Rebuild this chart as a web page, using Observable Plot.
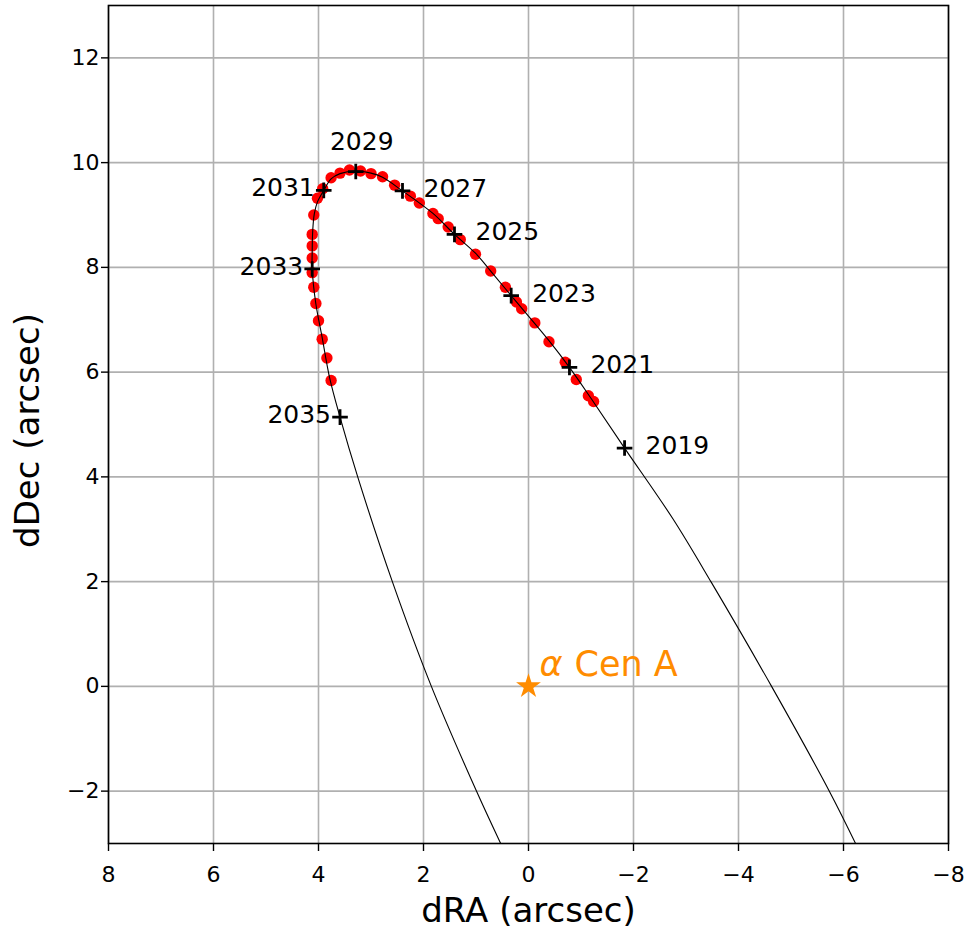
<!DOCTYPE html>
<html><head><meta charset="utf-8">
<script src="https://cdn.jsdelivr.net/npm/d3@7"></script>
<script src="https://cdn.jsdelivr.net/npm/@observablehq/plot@0.6"></script>
<style>
body{margin:0;background:#fff;}
svg{font-family:"DejaVu Sans";}
</style>
</head><body><div id="chart"></div>
<script>
// Projected track, ordered along the path
const pathX = [-6.23,-5.74,-4.63,-3.48,-2.75,-1.83,-1.19,-0.78,-0.39,0.33,0.72,1.01,1.41,1.82,2.40,2.78,3.00,3.29,3.59,3.76,3.90,4.02,4.08,4.11,4.12,4.12,4.05,3.93,3.79,3.59,3.25,2.59,1.85,1.00,0.53];
const pathY = [-3.00,-2.02,0.00,1.99,3.20,4.55,5.50,6.09,6.60,7.46,7.93,8.27,8.63,9.03,9.46,9.72,9.80,9.84,9.79,9.69,9.47,9.25,9.02,8.70,8.30,7.97,7.30,6.66,5.90,5.14,3.99,1.99,0.00,-1.98,-3.00];

// Red observed positions
const dotX = [3.76,3.84,3.93,4.00,4.05,4.09,4.12,4.12,4.12,4.12,4.09,4.02,3.92,3.76,3.59,3.41,3.20,3.00,2.78,2.55,2.25,2.08,1.82,1.72,1.53,1.30,1.01,0.72,0.44,0.23,0.13,-0.12,-0.39,-0.70,-0.91,-1.14,-1.24];
const dotY = [5.84,6.27,6.63,6.98,7.31,7.62,7.90,8.18,8.41,8.63,9.00,9.32,9.50,9.71,9.80,9.86,9.84,9.79,9.73,9.57,9.36,9.23,9.03,8.93,8.77,8.53,8.25,7.93,7.62,7.34,7.21,6.94,6.58,6.19,5.86,5.55,5.44];

// Yearly epoch markers
const years = ["2019","2021","2023","2025","2027","2029","2031","2033","2035"];
const yearX = [-1.83,-0.78,0.33,1.41,2.40,3.29,3.90,4.12,3.59];
const yearY = [4.55,6.09,7.46,8.63,9.46,9.83,9.47,7.97,5.14];

// Reference star
const starName = "Cen A";
const starX = [0];
const starY = [0];

const xTicks = [8,6,4,2,0,-2,-4,-6,-8];
const yTicks = [-2,0,2,4,6,8,10,12];

const path = pathX.map((x,i)=>({x, y:pathY[i]}));
const dots = dotX.map((x,i)=>({x, y:dotY[i]}));
const epochs = years.map((year,i)=>({year, x:yearX[i], y:yearY[i]}));
const star = starX.map((x,i)=>({x, y:starY[i]}));

const rightSide = epochs.filter(d=>+d.year<=2027);
const topSide = epochs.filter(d=>+d.year===2029);
const leftSide = epochs.filter(d=>+d.year>=2031);

const plusSymbol = {draw(ctx, size){const r=Math.sqrt(size/Math.PI); ctx.moveTo(-r,0); ctx.lineTo(r,0); ctx.moveTo(0,-r); ctx.lineTo(0,r);}};
const fmt = d3.format("d");

const chart = Plot.plot({
  width: 968, height: 930,
  marginLeft: 108, marginRight: 20, marginTop: 5, marginBottom: 87,
  x: {domain: [8,-8]},
  y: {domain: [-3,13]},
  style: {fontFamily: "DejaVu Sans", background: "white", color: "black"},
  marks: [
    Plot.gridX(xTicks, {stroke:"#b0b0b0", strokeOpacity:1, strokeWidth:1.6}),
    Plot.gridY(yTicks, {stroke:"#b0b0b0", strokeOpacity:1, strokeWidth:1.6}),
    Plot.axisX(xTicks, {tickSize:8, tickPadding:15, fontSize:22, label:null, tickFormat:fmt, strokeWidth:1.4}),
    Plot.axisY(yTicks, {tickSize:7, tickPadding:2, fontSize:22, label:null, tickFormat:fmt, strokeWidth:1.4}),
    Plot.dot(dots, {x:"x", y:"y", r:5.7, fill:"#ff0000"}),
    Plot.line(path, {x:"x", y:"y", curve:"catmull-rom", stroke:"black", strokeWidth:1.1, clip:true}),
    Plot.dot(epochs, {x:"x", y:"y", symbol:plusSymbol, r:7.8, stroke:"black", strokeWidth:2.8, fill:"none"}),
    Plot.text(rightSide, {x:"x", y:"y", text:"year", textAnchor:"start", dx:21, dy:-2, fontSize:25, fill:"black"}),
    Plot.text(topSide, {x:"x", y:"y", text:"year", textAnchor:"middle", dx:6, dy:-30, fontSize:25, fill:"black"}),
    Plot.text(leftSide, {x:"x", y:"y", text:"year", textAnchor:"end", dx:-9, dy:-2, fontSize:25, fill:"black"}),
    Plot.dot(star, {x:"x", y:"y", symbol:"star", r:7.8, fill:"#ff8c00", stroke:"none"}),
    Plot.text(star, {x:"x", y:"y", text:()=>"α", textAnchor:"start", dx:11, dy:-22, fontSize:35, fontStyle:"italic", fill:"#ff8c00"}),
    Plot.text(star, {x:"x", y:"y", text:()=>starName, textAnchor:"start", dx:46, dy:-22, fontSize:35, fill:"#ff8c00"}),
    Plot.frame({stroke:"black", strokeWidth:1.6}),
    Plot.text(["dRA (arcsec)"], {frameAnchor:"bottom", textAnchor:"middle", lineAnchor:"middle", dy:68, fontSize:34, fill:"black"}),
    Plot.text(["dDec (arcsec)"], {frameAnchor:"left", textAnchor:"middle", lineAnchor:"middle", rotate:-90, dx:-80, dy:6, fontSize:34, fill:"black"})
  ]
});
document.getElementById("chart").appendChild(chart);
</script>
</body></html>
